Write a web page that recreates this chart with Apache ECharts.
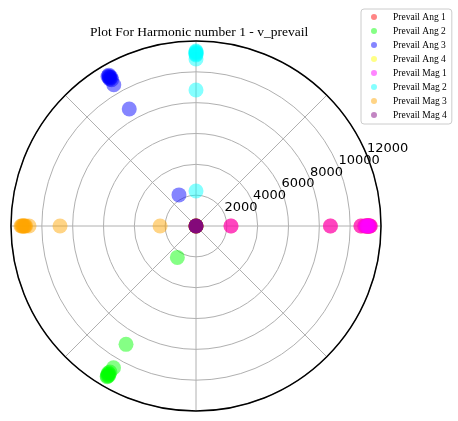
<!DOCTYPE html>
<html>
<head>
<meta charset="utf-8">
<script src="https://cdn.jsdelivr.net/npm/echarts@6/dist/echarts.min.js"></script>
<style>
html,body{margin:0;padding:0;background:#fff;}
#chart{width:458px;height:421px;}
</style>
</head>
<body>
<div id="chart"></div>
<script>
// ---- data (radius in magnitude units, angle in degrees) ----
const seriesNames = ['Prevail Ang 1','Prevail Ang 2','Prevail Ang 3','Prevail Ang 4',
                     'Prevail Mag 1','Prevail Mag 2','Prevail Mag 3','Prevail Mag 4'];
const seriesColors = ['rgba(255,0,0,0.6)','rgba(0,255,0,0.6)','rgba(0,0,255,0.6)','rgba(255,255,0,0.6)',
                      'rgba(255,0,255,0.6)','rgba(0,255,255,0.6)','rgba(255,165,0,0.6)','rgba(128,0,128,0.6)'];

const ang1Radius = [2270, 8720, 10700, 10950, 11050, 11100, 11150, 11200, 11250, 11300];
const ang1Angle  = [0, 0, 0, 0, 0, 0, 0, 0, 0, 0];
const ang2Radius = [2370, 8917, 10640, 11000, 11100, 11150, 11200, 11250, 11300, 11350];
const ang2Angle  = [239.3, 239.4, 239.8, 239.5, 239.2, 239.6, 239.3, 239.7, 239.4, 239.5];
const ang3Radius = [2300, 8740, 10600, 10950, 11050, 11100, 11150, 11200, 11250, 11300];
const ang3Angle  = [118.7, 119.7, 120.2, 120.0, 120.4, 119.8, 120.3, 120.1, 120.5, 120.0];
const ang4Radius = [0, 0, 0, 0, 0];
const ang4Angle  = [0, 0, 0, 0, 0];
const mag1Radius = [2270, 8720, 10700, 10950, 11050, 11100, 11150, 11200, 11250, 11300];
const mag1Angle  = [0, 0, 0, 0, 0, 0, 0, 0, 0, 0];
const mag2Radius = [2270, 8820, 10830, 11100, 11150, 11200, 11250, 11300, 11350];
const mag2Angle  = [90, 90, 90, 90, 90, 90, 90, 90, 90];
const mag3Radius = [2330, 8820, 10830, 11050, 11100, 11150, 11200, 11250, 11300, 11350];
const mag3Angle  = [180, 180, 180, 180, 180, 180, 180, 180, 180, 180];
const mag4Radius = [0, 0, 0, 0, 0];
const mag4Angle  = [0, 0, 0, 0, 0];

const radiusTicks = [2000, 4000, 6000, 8000, 10000, 12000];
const titleText = 'Plot For Harmonic number 1 - v_prevail';

const allRadius = [ang1Radius, ang2Radius, ang3Radius, ang4Radius, mag1Radius, mag2Radius, mag3Radius, mag4Radius];
const allAngle  = [ang1Angle, ang2Angle, ang3Angle, ang4Angle, mag1Angle, mag2Angle, mag3Angle, mag4Angle];

// ---- chart ----
const chart = echarts.init(document.getElementById('chart'), null, {renderer: 'canvas'});
const CENTER = [196, 226];
const RADIUS = 185;
const R_MAX = radiusTicks[radiusTicks.length - 1];
const R_STEP = radiusTicks[0];

const series = seriesNames.map((name, i) => ({
  name: name,
  type: 'scatter',
  coordinateSystem: 'polar',
  polarIndex: 0,
  symbol: 'circle',
  symbolSize: 15,
  itemStyle: {color: seriesColors[i], borderWidth: 0},
  emphasis: {disabled: true},
  animation: false,
  data: allRadius[i].map((r, j) => [r, allAngle[i][j]])
}));

const labelStyle = {
  show: true, showMinLabel: false, hideOverlap: false, margin: 0,
  align: 'left', verticalAlign: 'bottom',
  fontFamily: 'DejaVu Sans', fontSize: 13, color: '#000',
  formatter: function (v) { return radiusTicks.indexOf(v) >= 0 ? String(v) : ''; }
};

chart.setOption({
  animation: false,
  backgroundColor: '#ffffff',
  title: {
    text: titleText,
    left: 85,
    top: 20,
    textStyle: {fontFamily: 'Liberation Serif', fontSize: 13.5, fontWeight: 'normal', color: '#000'}
  },
  legend: {
    orient: 'vertical',
    left: 361,
    top: 9,
    data: seriesNames,
    icon: 'circle',
    itemWidth: 6,
    itemHeight: 6,
    itemGap: 4,
    padding: [3, 5, 4, 10],
    backgroundColor: 'rgba(255,255,255,0.8)',
    borderColor: '#cccccc',
    borderWidth: 1,
    borderRadius: 3,
    textStyle: {fontFamily: 'Liberation Serif', fontSize: 9.5, lineHeight: 10, color: '#000', padding: [0, 0, 0, 11]}
  },
  polar: [
    {center: CENTER, radius: RADIUS},
    {center: CENTER, radius: RADIUS},
    {center: CENTER, radius: RADIUS}
  ],
  angleAxis: [
    {
      polarIndex: 0, type: 'value', min: 0, max: 360, interval: 45,
      startAngle: 0, clockwise: false,
      axisLine: {show: true, lineStyle: {color: '#000', width: 1.5}},
      axisTick: {show: false},
      axisLabel: {show: false},
      splitLine: {show: true, lineStyle: {color: '#b0b0b0', width: 1}}
    },
    {polarIndex: 1, type: 'value', min: 0, max: 360, startAngle: 22.5, clockwise: false, show: false},
    {polarIndex: 2, type: 'value', min: 0, max: 360, startAngle: 22.5, clockwise: false, show: false}
  ],
  radiusAxis: [
    {
      polarIndex: 0, type: 'value', min: 0, max: R_MAX, interval: R_STEP,
      axisLine: {show: false}, axisTick: {show: false}, axisLabel: {show: false},
      splitLine: {show: true, lineStyle: {color: '#b0b0b0', width: 1}}
    },
    {
      polarIndex: 1, type: 'value', min: 0, max: R_MAX, interval: R_STEP,
      axisLine: {show: false}, axisTick: {show: false}, splitLine: {show: false},
      axisLabel: Object.assign({}, labelStyle, {showMaxLabel: false})
    },
    {
      polarIndex: 2, type: 'value', min: 0, max: R_MAX, interval: R_MAX,
      axisLine: {show: false}, axisTick: {show: false}, splitLine: {show: false},
      axisLabel: Object.assign({}, labelStyle, {showMaxLabel: true})
    }
  ],
  series: series
});
</script>
</body>
</html>
